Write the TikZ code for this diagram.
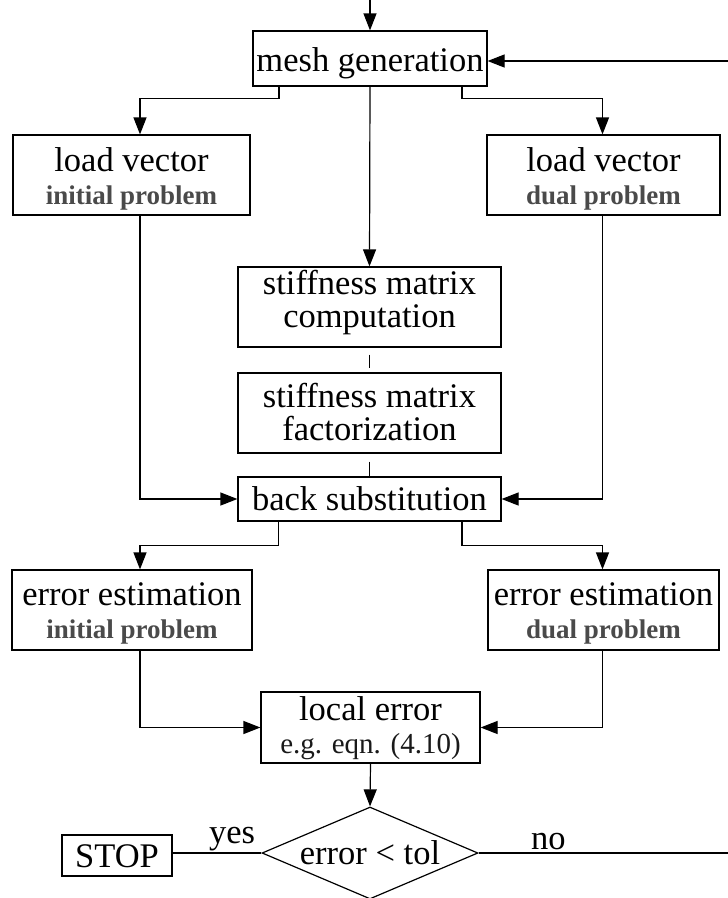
\documentclass[tikz,border=0pt]{standalone}
\usepackage{fontspec}
\setmainfont{Liberation Serif}
\usetikzlibrary{arrows.meta,shapes.geometric}
\definecolor{subgray}{HTML}{4A4A4A}
\newcommand{\mainf}{\fontsize{34.5}{32.5}\selectfont}
\newcommand{\subf}{\fontsize{27}{28}\selectfont\bfseries\color{subgray}}
\tikzset{
  box/.style={draw, line width=1.2pt, inner sep=0pt, align=center, font=\mainf, text depth=0pt},
  conn/.style={line width=1.2pt},
  arr/.style={conn, -{Triangle[length=17pt,width=13pt]}},
}
\begin{document}
\begin{tikzpicture}[x=1pt,y=-1pt]
\useasboundingbox (0,0) rectangle (728,898);
% nodes
\node[box, minimum width=234pt, minimum height=55pt, text height=25pt] (mesh) at (370,58.5) {mesh generation};
\node[box, minimum width=237pt, minimum height=80pt, text height=58pt] (loadL) at (131.5,175) {load vector\\{\subf initial problem}};
\node[box, minimum width=233pt, minimum height=80pt, text height=58pt] (loadR) at (603.5,175) {load vector\\{\subf dual problem}};
\node[box, minimum width=263pt, minimum height=80pt, text height=40pt] (comp) at (369.5,307) {stiffness matrix\\computation};
\node[box, minimum width=263pt, minimum height=80pt, text height=54pt] (fact) at (369.5,413) {stiffness matrix\\factorization};
\node[box, minimum width=263pt, minimum height=44pt, text height=22pt] (back) at (369.5,499) {back substitution};
\node[box, minimum width=240pt, minimum height=80pt, text height=56pt] (errL) at (132,610) {error estimation\\{\subf initial problem}};
\node[box, minimum width=231pt, minimum height=80pt, text height=56pt] (errR) at (603.5,610) {error estimation\\{\subf dual problem}};
\node[box, minimum width=219pt, minimum height=71pt, text height=51pt] (local) at (370.5,727.5) {local error\\{\fontsize{29}{28}\selectfont\color{black!90} e.g. eqn. (4.10)}};
\node[draw, line width=1.2pt, shape=diamond, aspect=2.35, inner sep=0pt, minimum width=216pt, minimum height=92pt, text height=22pt, text depth=0pt, font=\mainf] (dia) at (370,853) {error < tol};
\node[box, minimum width=110pt, minimum height=41pt, text height=23pt] (stop) at (117,855.5) {STOP};
\coordinate (topin) at (370,0);
\coordinate (retin) at (728,61);
\coordinate (noend) at (728,853);
% connectors
\draw[arr] (topin) -- (mesh.north);
\draw[arr] (retin) -- (retin -| mesh.east);
\draw[arr] ([xshift=-91pt]mesh.south) -- ++(0,-12pt) -| ([xshift=8.5pt]loadL.north);
\draw[arr] ([xshift=92pt]mesh.south) -- ++(0,-12pt) -| ([xshift=-1pt]loadR.north);
\draw[arr] (mesh.south) -- (comp.north);
\draw[conn] ([yshift=-7pt]comp.south) -- ([yshift=4pt]fact.north);
\draw[conn] ([yshift=-8pt]fact.south) -- (back.north);
\draw[arr] ([xshift=8.5pt]loadL.south) |- (back.west);
\draw[arr] ([xshift=-1pt]loadR.south) |- (back.east);
\draw[arr] ([xshift=-91pt]back.south) -- ++(0,-24pt) -| ([xshift=8pt]errL.north);
\draw[arr] ([xshift=92.5pt]back.south) -- ++(0,-24pt) -| ([xshift=-1pt]errR.north);
\draw[arr] ([xshift=8pt]errL.south) |- (local.west);
\draw[arr] ([xshift=-1pt]errR.south) |- (local.east);
\draw[arr] (local.south) -- (dia.north);
\draw[conn] (dia.west) -- node[above, pos=0.33, font=\mainf, inner sep=1pt] (yes) {yes} (dia.west -| stop.east);
\draw[conn] (dia.east) -- node[above, pos=0.28, font=\mainf, inner sep=3pt] (no) {no} (noend);
\end{tikzpicture}
\end{document}
